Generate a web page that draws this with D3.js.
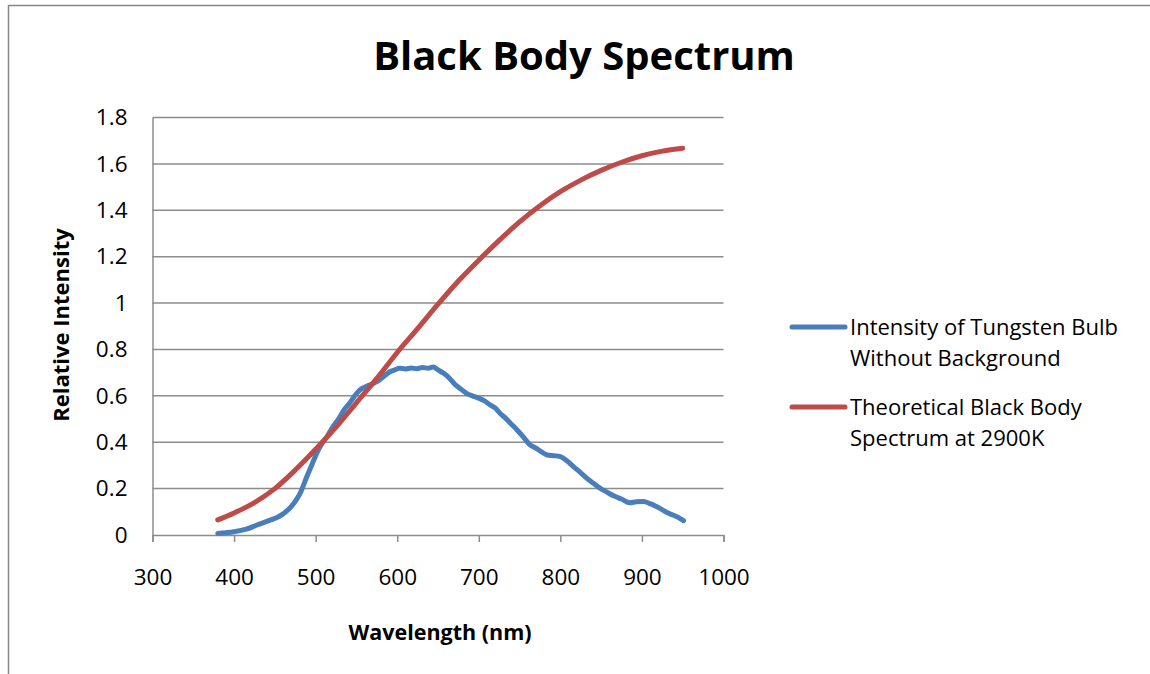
<!DOCTYPE html>
<html>
<head>
<meta charset="utf-8">
<script src="https://cdn.jsdelivr.net/npm/d3@7"></script>
<style>
  body { margin: 0; background: #fff; }
  svg { display: block; font-family: "Open Sans", sans-serif; }
</style>
</head>
<body>
<div id="chart"></div>
<script>
var bulbWl = [380, 390, 400, 415, 428, 445, 455, 462, 470, 476, 481, 489, 495, 501, 507, 514, 520, 528, 535, 542,
  548, 554, 562, 570, 577, 584, 591, 597, 603, 610, 617, 624, 631, 638, 644, 650, 657, 664, 670, 677,
  685, 692, 700, 707, 714, 720, 726, 733, 740, 747, 754, 763, 770, 777, 784, 792, 800, 808, 816, 825,
  833, 841, 849, 857, 866, 875, 885, 893, 902, 910, 917, 922, 930, 938, 945, 951];
var bulbVal = [0.007, 0.010, 0.014, 0.025, 0.043, 0.065, 0.080, 0.096, 0.122, 0.150, 0.180, 0.250, 0.300, 0.350, 0.390, 0.424, 0.460, 0.500, 0.540, 0.570,
  0.600, 0.625, 0.640, 0.652, 0.665, 0.685, 0.704, 0.712, 0.719, 0.716, 0.720, 0.717, 0.722, 0.719, 0.724, 0.712, 0.697, 0.676, 0.652, 0.632,
  0.611, 0.600, 0.590, 0.578, 0.561, 0.548, 0.525, 0.503, 0.478, 0.453, 0.425, 0.388, 0.375, 0.358, 0.345, 0.342, 0.338, 0.320, 0.295, 0.268,
  0.243, 0.222, 0.201, 0.185, 0.168, 0.155, 0.139, 0.143, 0.144, 0.135, 0.124, 0.115, 0.098, 0.086, 0.075, 0.062];

// theoretical black body curve at 2900K
var bbWl = [380, 400, 425, 450, 475, 500, 525, 550, 575, 600, 625, 650, 675, 700, 725, 750, 775, 800, 825, 850, 875, 900, 925, 950];
var bbVal = [0.065, 0.095, 0.14, 0.20, 0.28, 0.37, 0.465, 0.57, 0.675, 0.787, 0.89, 0.995, 1.095, 1.185, 1.27, 1.35, 1.42, 1.48, 1.53, 1.572, 1.607, 1.635, 1.655, 1.667];

var xTicks = [300, 400, 500, 600, 700, 800, 900, 1000];
var yTicks = [0, 0.2, 0.4, 0.6, 0.8, 1, 1.2, 1.4, 1.6, 1.8];

var seriesNames = [
  ["Intensity of Tungsten Bulb", "Without Background"],
  ["Theoretical Black Body", "Spectrum at 2900K"]
];
var seriesColors = ["#4a7ebb", "#be4b48"];

var W = 1150, H = 674;
var svg = d3.select('#chart').append('svg').attr('width', W).attr('height', H);

// outer chart frame (cropped at right/bottom)
svg.append('rect').attr('x', 8.5).attr('y', 5.5).attr('width', 1200).attr('height', 700)
  .attr('fill', 'none').attr('stroke', '#878787').attr('stroke-width', 1.5);

var x = d3.scaleLinear().domain([300, 1000]).range([152.5, 723.5]);
var y = d3.scaleLinear().domain([0, 1.8]).range([535, 117.5]);

// gridlines
svg.append('g').selectAll('line').data(yTicks.slice(1)).enter().append('line')
  .attr('x1', x(300)).attr('x2', x(1000))
  .attr('y1', function(d) { return y(d); }).attr('y2', function(d) { return y(d); })
  .attr('stroke', '#8c8c8c').attr('stroke-width', 1.5);

var xAxis = svg.append('g').attr('transform', 'translate(0,' + y(0) + ')')
  .call(d3.axisBottom(x).tickValues(xTicks).tickSize(7).tickPadding(27).tickFormat(d3.format('d')));
var yAxis = svg.append('g').attr('transform', 'translate(' + x(300) + ',0)')
  .call(d3.axisLeft(y).tickValues(yTicks).tickSize(0).tickPadding(25).tickFormat(function(d) { return String(d); }));

[xAxis, yAxis].forEach(function(a) {
  a.select('.domain').attr('stroke', '#8c8c8c').attr('stroke-width', 1.5);
  a.selectAll('.tick line').attr('stroke', '#8c8c8c').attr('stroke-width', 1.5);
  a.selectAll('.tick text').attr('fill', '#000').style('font-size', '22.5px').style('font-family', '"Open Sans", sans-serif');
});

var line = d3.line().x(function(d) { return x(d[0]); }).y(function(d) { return y(d[1]); }).curve(d3.curveMonotoneX);

var bulb = d3.zip(bulbWl, bulbVal);
var bb = d3.zip(bbWl, bbVal);

svg.append('path').datum(bulb).attr('d', line).attr('fill', 'none')
  .attr('stroke', seriesColors[0]).attr('stroke-width', 5).attr('stroke-linecap', 'round').attr('stroke-linejoin', 'round');
svg.append('path').datum(bb).attr('d', line).attr('fill', 'none')
  .attr('stroke', seriesColors[1]).attr('stroke-width', 5).attr('stroke-linecap', 'round').attr('stroke-linejoin', 'round');

// title
svg.append('text').attr('x', 584).attr('y', 70).attr('text-anchor', 'middle')
  .style('font-weight', 'bold').style('font-size', '40px').text('Black Body Spectrum');

// axis titles
svg.append('text').attr('x', 440).attr('y', 640).attr('text-anchor', 'middle')
  .style('font-weight', 'bold').style('font-size', '21.5px').text('Wavelength (nm)');
svg.append('text').attr('transform', 'translate(69,325) rotate(-90)').attr('text-anchor', 'middle')
  .style('font-weight', 'bold').style('font-size', '22px').text('Relative Intensity');

// legend
var legY = [327, 407];
seriesNames.forEach(function(lines, i) {
  var g = svg.append('g');
  g.append('line').attr('x1', 792).attr('x2', 845).attr('y1', legY[i]).attr('y2', legY[i])
    .attr('stroke', seriesColors[i]).attr('stroke-width', 5).attr('stroke-linecap', 'round');
  lines.forEach(function(t, j) {
    g.append('text').attr('x', 850).attr('y', legY[i] + 8 + j * 31)
      .style('font-size', '22px').text(t);
  });
});
</script>
</body>
</html>
